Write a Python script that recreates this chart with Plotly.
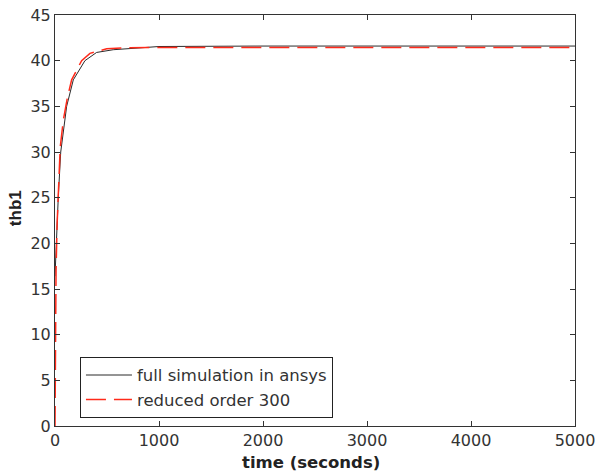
import plotly.graph_objects as go

# full simulation in ansys
t_full = [0, 16, 32, 55, 112, 176, 288, 400, 560, 817, 1000, 2000, 3000, 4000, 5000]
v_full = [16.4, 21.2, 25.2, 30.0, 35.0, 37.9, 40.0, 40.9, 41.2, 41.4, 41.55, 41.6, 41.6, 41.6, 41.6]

# reduced order 300
t_red = [0, 5, 10, 20, 32, 50, 80, 120, 160, 256, 336, 497, 700, 1000, 2000, 3000, 4000, 5000]
v_red = [0, 12.0, 17.0, 22.0, 26.2, 30.5, 33.5, 36.0, 37.9, 40.0, 40.8, 41.3, 41.42, 41.45, 41.45, 41.45, 41.45, 41.45]

x_ticks = [0, 1000, 2000, 3000, 4000, 5000]
y_ticks = [0, 5, 10, 15, 20, 25, 30, 35, 40, 45]

fig = go.Figure()
fig.add_trace(go.Scatter(x=t_full, y=v_full, mode="lines", name="full simulation in ansys",
                         line=dict(color="#2a2a2a", width=1)))
fig.add_trace(go.Scatter(x=t_red, y=v_red, mode="lines", name="reduced order 300",
                         line=dict(color="#ff2a1a", width=1.5, dash="20px,8px")))

font = "DejaVu Sans, sans-serif"
axis_common = dict(showgrid=False, zeroline=False, showline=True, linecolor="#333333", linewidth=1,
                   mirror="ticks", ticks="inside", ticklen=5, tickcolor="#333333", automargin=False,
                   tickfont=dict(family=font, size=16, color="#333333"))

fig.update_layout(
    width=597, height=473,
    margin=dict(l=55, r=22, t=15, b=47),
    paper_bgcolor="white", plot_bgcolor="white",
    font=dict(family=font, color="#222222"),
    xaxis=dict(range=[0, 5000], tickvals=x_ticks, ticktext=[str(v) for v in x_ticks], **axis_common),
    yaxis=dict(range=[0, 45], tickvals=y_ticks, ticktext=[str(v) for v in y_ticks], **axis_common),
    legend=dict(x=0.048, y=0.02, xanchor="left", yanchor="bottom",
                bordercolor="#222222", borderwidth=1, bgcolor="white",
                font=dict(family=font, size=16.5, color="#333333"),
                tracegroupgap=0, itemwidth=46),
    showlegend=True,
)
fig.add_annotation(text="<b>time (seconds)</b>", xref="paper", yref="paper", x=0.492, y=0,
                   yanchor="middle", yshift=-36, showarrow=False,
                   font=dict(family=font, size=16.5, color="#222222"))
fig.add_annotation(text="<b>thb1</b>", xref="paper", yref="paper", x=0, y=0.53,
                   xanchor="center", xshift=-40, textangle=-90, showarrow=False,
                   font=dict(family="Liberation Sans, Arial, sans-serif", size=17, color="#222222"))

fig.write_html("out.html", config={"displayModeBar": False},
               post_script="document.body.style.margin='0';")
